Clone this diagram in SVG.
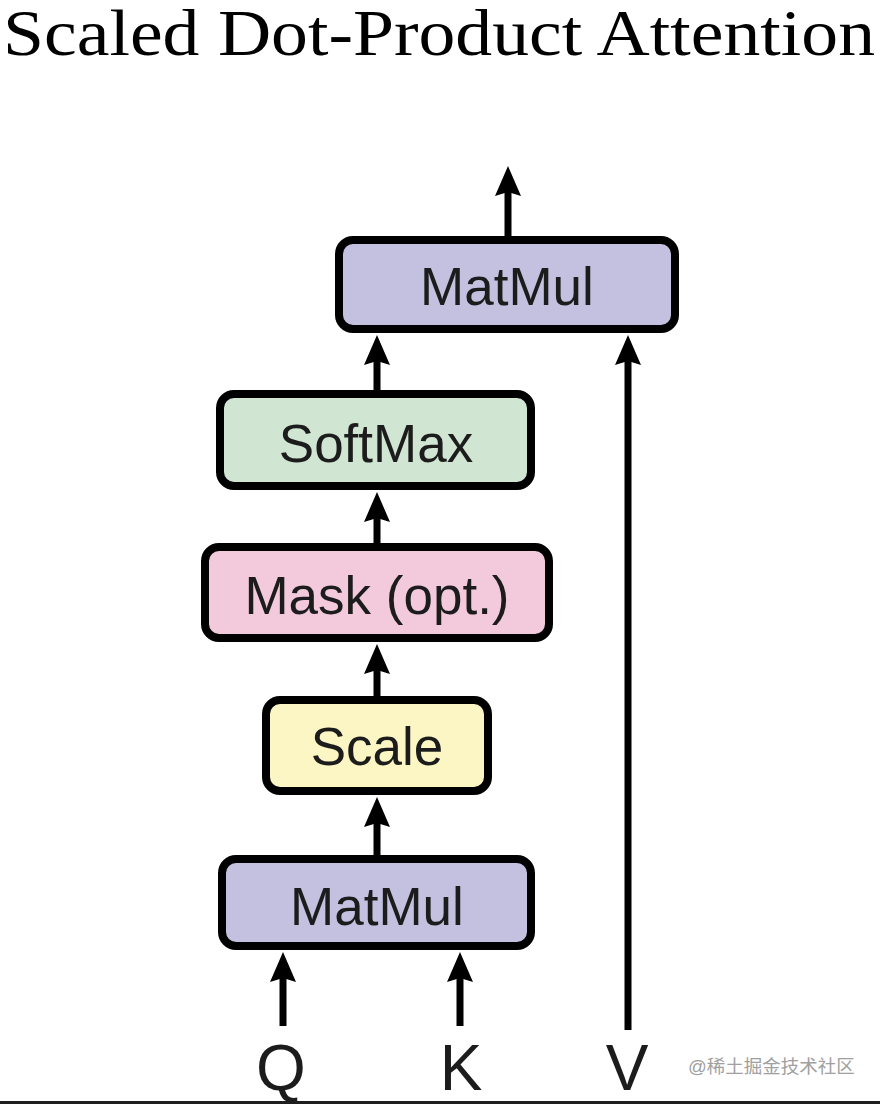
<svg xmlns="http://www.w3.org/2000/svg" width="880" height="1104" viewBox="0 0 880 1104">
<style>
.box{stroke:#000;stroke-width:8}
.lbl{font-family:"Liberation Sans",Arial,sans-serif;font-size:53px;fill:#1c1c1c;text-anchor:middle}
.io{font-family:"Liberation Sans",Arial,sans-serif;font-size:64px;fill:#1c1c1c;text-anchor:middle}
.arr{stroke:#000;stroke-width:7;fill:none;marker-end:url(#ah)}
</style>
<defs>
<marker id="ah" viewBox="0 0 30 26" refX="10" refY="13" markerWidth="30" markerHeight="26" markerUnits="userSpaceOnUse" orient="auto">
<path d="M0,0 L30,13 L0,26 L4,13 z" fill="#000"/>
</marker>
</defs>
<rect width="880" height="1104" fill="#fff"/>
<text x="3" y="55" font-family="Liberation Serif,Times New Roman,serif" font-size="66" fill="#000" textLength="872" lengthAdjust="spacingAndGlyphs">Scaled Dot-Product Attention</text>
<g id="connectors">
<line class="arr" x1="508" y1="236" x2="508" y2="186"/>
<line class="arr" x1="377" y1="390" x2="377" y2="355"/>
<line class="arr" x1="377" y1="543" x2="377" y2="512"/>
<line class="arr" x1="377" y1="696" x2="377" y2="664"/>
<line class="arr" x1="377" y1="855" x2="377" y2="817"/>
<line class="arr" x1="628" y1="1030" x2="628" y2="355"/>
<line class="arr" x1="283" y1="1026" x2="283" y2="972"/>
<line class="arr" x1="460" y1="1026" x2="460" y2="972"/>
</g>
<g id="matmul-top">
<rect class="box" x="339" y="240" width="336" height="89" rx="14" fill="#c4c0e0"/>
<text class="lbl" x="507" y="305">MatMul</text>
</g>
<g id="softmax">
<rect class="box" x="220" y="394" width="311" height="92" rx="14" fill="#d0e6d2"/>
<text class="lbl" x="376" y="462">SoftMax</text>
</g>
<g id="mask">
<rect class="box" x="205" y="547" width="344" height="91" rx="14" fill="#f3c9dc"/>
<text class="lbl" x="377" y="614">Mask (opt.)</text>
</g>
<g id="scale">
<rect class="box" x="266" y="700" width="222" height="91" rx="14" fill="#fcf6c4"/>
<text class="lbl" x="377" y="765">Scale</text>
</g>
<g id="matmul-bottom">
<rect class="box" x="222" y="859" width="309" height="87" rx="14" fill="#c4c0e0"/>
<text class="lbl" x="377" y="925">MatMul</text>
</g>
<g id="inputs">
<text class="io" x="281" y="1090">Q</text>
<text class="io" x="461" y="1090">K</text>
<text class="io" x="627" y="1090">V</text>
</g>
<text x="688" y="1073" font-family="Liberation Sans,Noto Sans CJK SC,sans-serif" font-size="18.5" fill="#a0a0a0">@稀土掘金技术社区</text>
<rect x="0" y="1101" width="880" height="3" fill="#1e1e1e"/>
</svg>
